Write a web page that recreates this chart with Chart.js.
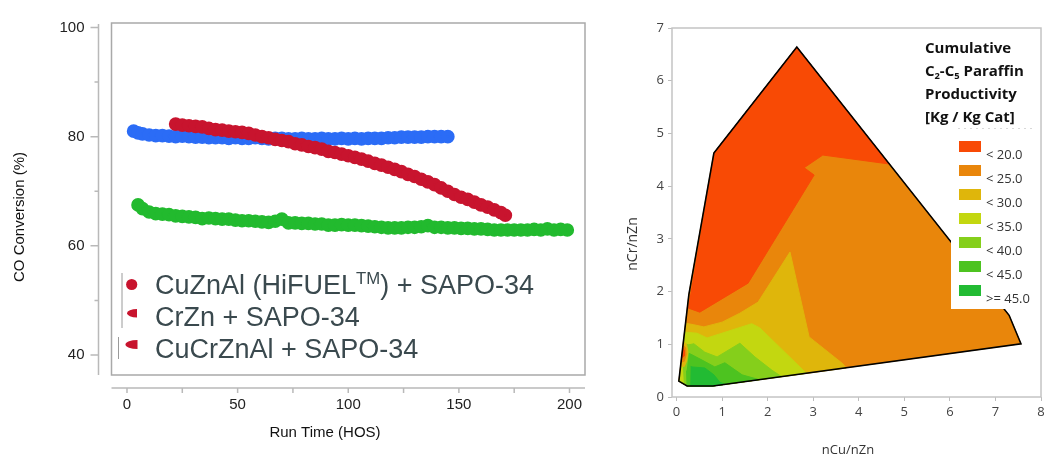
<!DOCTYPE html>
<html lang="en">
<head>
<meta charset="UTF-8">
<title>CO Conversion and C2-C5 Paraffin Productivity</title>
<script src="https://cdn.jsdelivr.net/npm/chart.js@4"></script>
<style>
html, body { margin: 0; padding: 0; background: #fff; }
#wrap { position: relative; width: 1044px; height: 455px; overflow: hidden; }
#leftBox { position: absolute; left: 0; top: 0; width: 610px; height: 455px; }
#rightBox { position: absolute; left: 610px; top: 0; width: 434px; height: 455px; }
</style>
</head>
<body>
<div id="wrap">
  <div id="leftBox"><canvas id="convChart"></canvas></div>
  <div id="rightBox"><canvas id="contourChart"></canvas></div>
</div>

<script>
// ---------- left panel: CO conversion vs run time ----------
const seriesNames = ['CuZnAl (HiFUEL\u2122) + SAPO-34', 'CrZn + SAPO-34', 'CuCrZnAl + SAPO-34'];

const redHours = [22,25,28,31,34,37,40,43,46,49,52,55,58,61,64,67,70,73,76,79,82,85,88,91,94,97,100,
  103,106,109,112,115,118,121,124,127,130,133,136,139,142,145,148,151,154,157,160,163,166,169,171];
const redConv = [82.3,82.1,82.0,81.9,81.8,81.5,81.3,81.2,81.0,80.9,80.8,80.6,80.3,80.0,79.8,79.5,79.3,79.1,
  78.7,78.5,78.2,78.0,77.7,77.3,77.1,76.8,76.5,76.2,75.9,75.5,75.1,74.8,74.4,74.0,73.6,73.1,72.7,72.2,
  71.7,71.2,70.6,70.0,69.4,68.9,68.5,68.0,67.5,67.1,66.6,66.1,65.6];

const blueHours = [3,5,7,10,13,16,19,22,25,28,31,34,37,40,43,46,49,52,55,58,61,64,67,70,73,76,79,82,85,
  88,91,94,97,100,103,106,109,112,115,118,121,124,127,130,133,136,139,142,145];
const blueConv = [81.0,80.7,80.5,80.3,80.2,80.2,80.1,80.0,80.1,80.0,79.9,79.9,79.8,79.8,79.8,79.7,79.8,
  79.7,79.7,79.8,79.7,79.6,79.7,79.7,79.6,79.6,79.7,79.6,79.6,79.7,79.6,79.6,79.7,79.6,79.7,79.6,79.7,
  79.7,79.7,79.8,79.8,79.9,79.9,79.9,79.9,80.0,80.0,80.0,80.0];

const greenHours = [5,7,10,13,16,19,22,25,28,31,34,37,40,43,46,49,52,55,58,61,64,67,70,73,76,79,82,85,
  88,91,94,97,100,103,106,109,112,115,118,121,124,127,130,133,136,139,142,145,148,151,154,157,160,163,
  166,169,172,175,178,181,184,187,190,193,196,199];
const greenConv = [67.5,66.8,66.2,65.9,65.8,65.7,65.5,65.4,65.3,65.2,65.0,65.1,65.0,64.9,64.9,64.7,64.6,
  64.6,64.5,64.4,64.3,64.5,64.9,64.2,64.2,64.1,64.1,64.0,64.0,63.8,63.8,63.9,63.8,63.8,63.7,63.6,63.5,
  63.4,63.3,63.3,63.3,63.4,63.4,63.5,63.7,63.4,63.4,63.3,63.3,63.2,63.2,63.1,63.1,63.0,62.9,62.9,62.9,
  62.9,62.9,62.9,63.0,62.9,63.1,62.9,63.0,62.9];

const seriesColors = ['#c8142e', '#2b6cf6', '#22ba2e'];

// ---------- right panel: contour zones (nCu/nZn, nCr/nZn) ----------
const contourLabels = ['< 20.0', '< 25.0', '< 30.0', '< 35.0', '< 40.0', '< 45.0', '>= 45.0'];
const contourColors = ['#f84a05', '#e9860b', '#dfb60b', '#c3d710', '#85cf1b', '#4dc320', '#22bb33'];

const domainEdge = [[0.82,4.63],[2.64,6.64],[7.3,1.55],[7.56,1.01],[0.8,0.21],[0.23,0.21],[0.05,0.3],[0.27,1.94],[0.82,4.63]];
const zone20 = [[0.82,4.63],[2.64,6.64],[4.67,4.42],[3.21,4.59],[2.8,4.35],[3.02,4.21],[1.57,2.16],[0.51,1.61],[0.25,1.69],[0.24,1.69]];
const zone30 = [[0.2,1.4],[0.38,1.37],[0.6,1.33],[1.0,1.42],[1.39,1.59],[1.79,1.8],[2.49,2.75],[2.91,1.14],[3.65,0.63],[3.72,0.55],[0.8,0.21],[0.23,0.21],[0.05,0.3]];
const zone35 = [[0.18,1.23],[0.45,1.21],[0.67,1.12],[1.65,1.39],[1.83,1.31],[2.85,0.45],[0.8,0.21],[0.23,0.21],[0.05,0.3]];
const zone40 = [[0.2,1.0],[0.27,0.99],[0.38,1.01],[0.62,0.85],[0.89,0.76],[1.39,1.02],[1.72,0.76],[2.09,0.51],[2.3,0.39],[0.8,0.21],[0.23,0.21],[0.17,0.27],[0.15,0.6]];
const zone45 = [[0.27,0.83],[0.34,0.8],[0.56,0.7],[0.84,0.57],[1.06,0.65],[1.44,0.42],[1.81,0.33],[0.8,0.21],[0.23,0.21],[0.22,0.5]];
const zone50 = [[0.31,0.58],[0.34,0.57],[0.62,0.55],[0.82,0.42],[0.95,0.28],[1.06,0.24],[0.8,0.21],[0.3,0.21]];
// small low-productivity spot on the left edge
const spot30 = [[0.15,1.04],[0.22,1.0],[0.25,0.85],[0.22,0.68],[0.17,0.58],[0.09,0.59]];
const spot25 = [[0.14,0.99],[0.2,0.93],[0.21,0.8],[0.17,0.68],[0.1,0.66]];
const spot20 = [[0.135,0.94],[0.17,0.88],[0.17,0.78],[0.11,0.74]];

Chart.defaults.font.family = "'Liberation Sans', Arial, sans-serif";

const toXY = (xs, ys) => xs.map((x, i) => ({ x: x, y: ys[i] }));
const toPts = arr => arr.map(p => ({ x: p[0], y: p[1] }));

// fixed scale sizes, no extra label padding pushed into the layout
const fixSize = (w, h) => s => {
  if (w) s.width = w;
  if (h) s.height = h;
  s.paddingTop = 0; s.paddingBottom = 0; s.paddingLeft = 0; s.paddingRight = 0;
};

// draws text made of normal / sup / sub parts, returns end x
function drawRich(ctx, parts, x, y, size, weight, family) {
  parts.forEach(([txt, kind]) => {
    const s = kind ? size * 0.62 : size;
    const dy = kind === 'sup' ? -size * 0.36 : (kind === 'sub' ? size * 0.22 : 0);
    ctx.font = `${weight} ${s}px ${family}`;
    ctx.fillText(txt, x, y + dy);
    x += ctx.measureText(txt).width;
  });
  return x;
}

const leftDecor = {
  id: 'leftDecor',
  afterDraw(chart) {
    const { ctx, chartArea: a, scales: { x, y } } = chart;
    ctx.save();
    // plot frame
    ctx.strokeStyle = '#a9a9a9';
    ctx.lineWidth = 1.5;
    ctx.strokeRect(a.left, a.top, a.right - a.left, a.bottom - a.top);

    // detached axes
    ctx.strokeStyle = '#b9b9b9';
    ctx.beginPath();
    const ax = a.left - 13;
    ctx.moveTo(ax, a.top + 1);
    ctx.lineTo(ax, a.bottom);
    y.ticks.forEach(t => {
      const py = y.getPixelForValue(t.value);
      const len = t.value % 20 === 0 ? 8 : 4;
      ctx.moveTo(ax - len, py);
      ctx.lineTo(ax, py);
    });
    const ay = a.bottom + 13;
    ctx.moveTo(a.left, ay);
    ctx.lineTo(a.right, ay);
    x.ticks.forEach(t => {
      const px = x.getPixelForValue(t.value);
      ctx.moveTo(px, ay);
      ctx.lineTo(px, ay + 5);
    });
    ctx.stroke();

    // axis titles
    ctx.fillStyle = '#111';
    ctx.font = "15px 'Liberation Sans', Arial, sans-serif";
    ctx.textAlign = 'center';
    ctx.textBaseline = 'middle';
    ctx.fillText('Run Time (HOS)', 325, 433);
    ctx.save();
    ctx.translate(20, 217);
    ctx.rotate(-Math.PI / 2);
    ctx.fillText('CO Conversion (%)', 0, 0);
    ctx.restore();

    // legend (as drawn in the original figure)
    ctx.strokeStyle = '#9a9a9a';
    ctx.lineWidth = 1;
    ctx.beginPath();
    ctx.moveTo(122, 273); ctx.lineTo(122, 328);
    ctx.moveTo(118.5, 337); ctx.lineTo(118.5, 359);
    ctx.stroke();
    ctx.fillStyle = seriesColors[0];
    ctx.beginPath();
    ctx.arc(131.7, 284.5, 5.6, 0, Math.PI * 2);
    ctx.fill();
    ctx.beginPath();
    ctx.ellipse(137, 313.3, 10, 4.2, 0, Math.PI / 2, Math.PI * 1.5);
    ctx.closePath();
    ctx.fill();
    ctx.beginPath();
    ctx.ellipse(137.5, 344.5, 12, 4.6, 0, Math.PI / 2, Math.PI * 1.5);
    ctx.closePath();
    ctx.fill();

    ctx.fillStyle = '#3a494e';
    ctx.textAlign = 'left';
    ctx.textBaseline = 'alphabetic';
    const fam = "'Liberation Sans', Arial, sans-serif";
    drawRich(ctx, [['CuZnAl (HiFUEL', ''], ['TM', 'sup'], [') + SAPO-34', '']], 155, 293.5, 27, 'normal', fam);
    drawRich(ctx, [[seriesNames[1], '']], 155, 325.5, 27, 'normal', fam);
    drawRich(ctx, [[seriesNames[2], '']], 155, 357.5, 27, 'normal', fam);
    ctx.restore();
  }
};

function runSet(label, xs, ys, color) {
  return {
    label: label, data: toXY(xs, ys),
    showLine: true, borderColor: color, borderWidth: 5.5,
    borderCapStyle: 'round', borderJoinStyle: 'round',
    backgroundColor: color, pointBackgroundColor: color
  };
}

new Chart(document.getElementById('convChart'), {
  type: 'scatter',
  data: {
    datasets: [
      runSet(seriesNames[0], redHours, redConv, seriesColors[0]),
      runSet(seriesNames[1], blueHours, blueConv, seriesColors[1]),
      runSet(seriesNames[2], greenHours, greenConv, seriesColors[2])
    ]
  },
  options: {
    responsive: true,
    maintainAspectRatio: false,
    animation: false,
    events: [],
    layout: { padding: { top: 23, right: 25, left: 0, bottom: 0 } },
    elements: { point: { radius: 4.1, borderWidth: 0, hoverRadius: 4.1 } },
    plugins: { legend: { display: false }, tooltip: { enabled: false } },
    scales: {
      x: {
        type: 'linear', min: -7, max: 207,
        afterFit: fixSize(0, 80),
        grid: { display: false, drawTicks: false },
        border: { display: false },
        ticks: {
          stepSize: 25, includeBounds: false, autoSkip: false, maxRotation: 0, padding: 21,
          color: '#222', font: { size: 15 },
          callback: v => (v % 50 === 0 ? v : '')
        }
      },
      y: {
        type: 'linear', min: 36.34, max: 100.82,
        afterFit: fixSize(111.5, 0),
        grid: { display: false, drawTicks: false },
        border: { display: false },
        ticks: {
          stepSize: 10, includeBounds: false, autoSkip: false, padding: 27,
          color: '#222', font: { size: 15 },
          callback: v => (v % 20 === 0 ? v : '')
        }
      }
    }
  },
  plugins: [leftDecor]
});

// ---------- right panel ----------
const openSans = "'Open Sans', 'Noto Sans', sans-serif";

const rightDecor = {
  id: 'rightDecor',
  afterDatasetsDraw(chart) {
    const { ctx } = chart;
    ctx.save();
    // legend box
    ctx.fillStyle = '#fff';
    ctx.fillRect(341, 125, 91, 184);
    ctx.strokeStyle = '#d8d8d8';
    ctx.lineWidth = 1;
    ctx.setLineDash([2, 4]);
    ctx.beginPath();
    ctx.moveTo(348, 128.5); ctx.lineTo(425, 128.5);
    ctx.stroke();
    ctx.setLineDash([]);

    ctx.fillStyle = '#111';
    ctx.textAlign = 'left';
    ctx.textBaseline = 'alphabetic';
    drawRich(ctx, [['Cumulative', '']], 315, 53, 15, 'bold', openSans);
    drawRich(ctx, [['C', ''], ['2', 'sub'], ['-C', ''], ['5', 'sub'], [' Paraffin', '']], 315, 76, 15, 'bold', openSans);
    drawRich(ctx, [['Productivity', '']], 315, 99, 15, 'bold', openSans);
    drawRich(ctx, [['[Kg / Kg Cat]', '']], 315, 122, 15, 'bold', openSans);

    ctx.textBaseline = 'middle';
    ctx.font = `13px ${openSans}`;
    contourLabels.forEach((lab, i) => {
      ctx.fillStyle = contourColors[i];
      ctx.fillRect(349, 141 + i * 24, 22, 11);
      ctx.fillStyle = '#333';
      ctx.fillText(lab, 376, 155 + i * 24);
    });
    ctx.restore();
  },
  afterDraw(chart) {
    const { ctx, chartArea: a } = chart;
    ctx.save();
    ctx.strokeStyle = '#c4c4c4';
    ctx.lineWidth = 1.5;
    ctx.strokeRect(a.left, a.top, a.right - a.left, a.bottom - a.top);
    ctx.fillStyle = '#333';
    ctx.textAlign = 'center';
    ctx.textBaseline = 'middle';
    ctx.font = `13px ${openSans}`;
    ctx.fillText('nCu/nZn', 238, 450);
    ctx.font = `14px ${openSans}`;
    ctx.translate(23, 244);
    ctx.rotate(-Math.PI / 2);
    ctx.fillText('nCr/nZn', 0, 0);
    ctx.restore();
  }
};

function zoneSet(pts, color, order) {
  return {
    data: toPts(pts), showLine: true, fill: 'shape',
    backgroundColor: color, borderColor: color, borderWidth: 1,
    pointRadius: 0, order: order
  };
}

new Chart(document.getElementById('contourChart'), {
  type: 'scatter',
  data: {
    datasets: [
      { data: toPts(domainEdge), showLine: true, fill: false, borderColor: '#000', borderWidth: 1.6, pointRadius: 0, order: 0 },
      zoneSet(spot20, contourColors[0], 1),
      zoneSet(spot25, contourColors[1], 2),
      zoneSet(spot30, contourColors[2], 3),
      zoneSet(zone50, contourColors[6], 4),
      zoneSet(zone45, contourColors[5], 5),
      zoneSet(zone40, contourColors[4], 6),
      zoneSet(zone35, contourColors[3], 7),
      zoneSet(zone30, contourColors[2], 8),
      zoneSet(zone20, contourColors[0], 9),
      zoneSet(domainEdge, contourColors[1], 10)
    ]
  },
  options: {
    responsive: true,
    maintainAspectRatio: false,
    animation: false,
    events: [],
    layout: { padding: { top: 28, right: 3, left: 0, bottom: 0 } },
    plugins: { legend: { display: false }, tooltip: { enabled: false } },
    scales: {
      x: {
        type: 'linear', min: -0.1, max: 8,
        afterFit: fixSize(0, 58),
        grid: { drawOnChartArea: false, tickLength: 4, color: '#bdbdbd' },
        border: { display: false },
        ticks: { stepSize: 1, includeBounds: false, autoSkip: false, maxRotation: 0, padding: 3,
          color: '#444', font: { family: openSans, size: 13 } }
      },
      y: {
        type: 'linear', min: 0, max: 7,
        afterFit: fixSize(62, 0),
        grid: { drawOnChartArea: false, tickLength: 4, color: '#bdbdbd' },
        border: { display: false },
        ticks: { stepSize: 1, includeBounds: false, autoSkip: false, padding: 4,
          color: '#444', font: { family: openSans, size: 13 } }
      }
    }
  },
  plugins: [rightDecor]
});
</script>
</body>
</html>
